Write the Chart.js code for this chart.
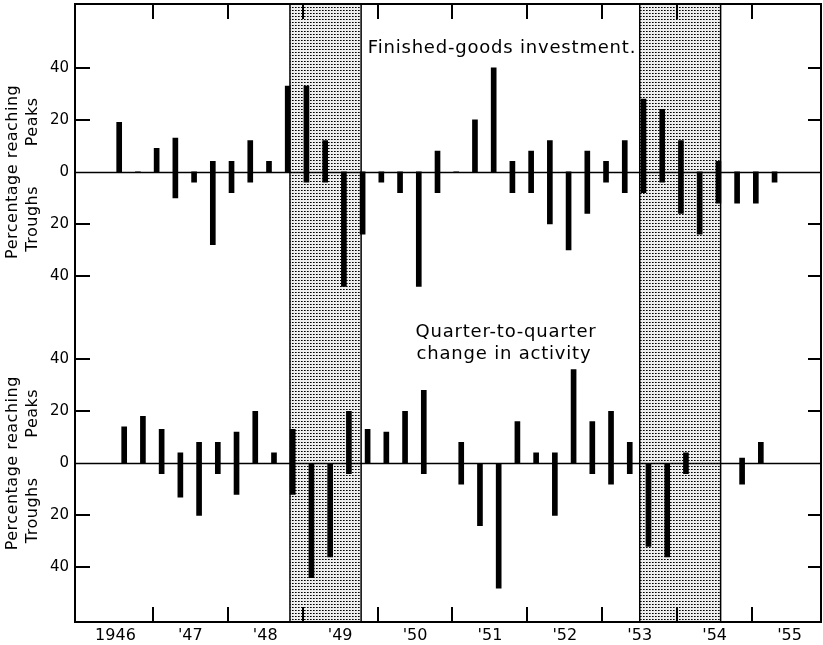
<!DOCTYPE html>
<html>
<head>
<meta charset="utf-8">
<script src="https://cdn.jsdelivr.net/npm/chart.js@4"></script>
<style>
  html, body { margin: 0; padding: 0; background: #fff; }
</style>
</head>
<body>
<canvas id="chart" width="823" height="645"></canvas>
<script>
// quarters (bars sit at the middle month of each quarter)
var quarters = [
  "1946 III", "1946 IV",
  "1947 I", "1947 II", "1947 III", "1947 IV",
  "1948 I", "1948 II", "1948 III", "1948 IV",
  "1949 I", "1949 II", "1949 III", "1949 IV",
  "1950 I", "1950 II", "1950 III", "1950 IV",
  "1951 I", "1951 II", "1951 III", "1951 IV",
  "1952 I", "1952 II", "1952 III", "1952 IV",
  "1953 I", "1953 II", "1953 III", "1953 IV",
  "1954 I", "1954 II", "1954 III", "1954 IV",
  "1955 I", "1955 II"
];

// Finished-goods investment: percentage reaching peaks / troughs
var goodsPeaks   = [19, 0, 9, 13, 0, 4, 4, 12, 4, 33, 33, 12, 0, 0, 0, 0, 0, 8, 0, 20, 40, 4, 8, 12, 0, 8, 4, 12, 28, 24, 12, 0, 4, 0, 0, 0];
var goodsTroughs = [0, 0, 0, 10, 4, 28, 8, 4, 0, 0, 4, 4, 44, 24, 4, 8, 44, 8, 0, 0, 0, 8, 8, 20, 30, 16, 4, 8, 8, 4, 16, 24, 12, 12, 12, 4];

// Quarter-to-quarter change in activity
var activityPeaks   = [14, 18, 13, 4, 8, 8, 12, 20, 4, 13, 0, 0, 20, 13, 12, 20, 28, 0, 8, 0, 0, 16, 4, 4, 36, 16, 20, 8, 0, 0, 4, 0, 0, 2, 8, 0];
var activityTroughs = [0, 0, 4, 13, 20, 4, 12, 0, 0, 12, 44, 36, 4, 0, 0, 0, 4, 0, 8, 24, 48, 0, 0, 20, 0, 4, 8, 4, 32, 36, 4, 0, 0, 8, 0, 0];

var yearLabels = ["1946", "'47", "'48", "'49", "'50", "'51", "'52", "'53", "'54", "'55"];
var yTicks = [-40, -20, 0, 20, 40];
// shaded business-cycle contractions (decimal years)
var recessions = [[1948.83, 1949.78], [1953.50, 1954.58]];

var quarterMid = { "I": 1 / 12, "II": 4 / 12, "III": 7 / 12, "IV": 10 / 12 };
function qx(q) {
  var p = q.split(" ");
  return Number(p[0]) + quarterMid[p[1]];
}
function spans(peaks, troughs) {
  return quarters.map(function (q, i) {
    return { x: qx(q), y: [-troughs[i], peaks[i]] };
  });
}

var FONT = "'DejaVu Sans', sans-serif";

function stipple(ctx) {
  var c = document.createElement('canvas');
  c.width = 3; c.height = 3;
  var g = c.getContext('2d');
  g.fillStyle = '#eeeeee';
  g.fillRect(0, 0, 3, 3);
  g.fillStyle = '#000';
  g.fillRect(1, 1, 1, 1);
  g.fillStyle = '#555';
  g.fillRect(2, 1, 1, 1);
  return ctx.createPattern(c, 'repeat');
}

function yAxis(min, max, weight) {
  return {
    type: 'linear',
    position: 'left',
    stack: 'panels',
    stackWeight: weight,
    min: min,
    max: max,
    grid: { display: false, drawTicks: false },
    border: { display: false },
    afterBuildTicks: function (s) {
      s.ticks = yTicks.map(function (v) { return { value: v }; });
    },
    afterFit: function (s) {
      s.width = 75;
      s.paddingTop = 0;
      s.paddingBottom = 0;
    },
    ticks: {
      padding: 6,
      color: '#000',
      font: { family: FONT, size: 15 },
      callback: function (v) { return String(Math.abs(v)); }
    }
  };
}

function line(ctx, x0, y0, x1, y1) {
  ctx.beginPath();
  ctx.moveTo(x0, y0);
  ctx.lineTo(x1, y1);
  ctx.stroke();
}

var framePlugin = {
  id: 'frame',
  beforeDatasetsDraw: function (chart) {
    var ctx = chart.ctx, a = chart.chartArea, xs = chart.scales.x;
    ctx.save();
    ctx.fillStyle = stipple(ctx);
    ctx.strokeStyle = '#000';
    ctx.lineWidth = 1.5;
    recessions.forEach(function (r) {
      var x0 = xs.getPixelForValue(r[0]), x1 = xs.getPixelForValue(r[1]);
      ctx.fillRect(x0, a.top, x1 - x0, a.bottom - a.top);
      line(ctx, x0, a.top, x0, a.bottom);
      line(ctx, x1, a.top, x1, a.bottom);
    });
    // zero lines
    ['yTop', 'yBot'].forEach(function (id) {
      var y0 = Math.round(chart.scales[id].getPixelForValue(0)) + 0.5;
      line(ctx, a.left, y0, a.right, y0);
    });
    ctx.restore();
  },
  afterDatasetsDraw: function (chart) {
    var ctx = chart.ctx, a = chart.chartArea, xs = chart.scales.x;
    var L = Math.round(a.left), R = Math.round(a.right);
    var T = Math.round(a.top), B = Math.round(a.bottom);
    ctx.save();
    ctx.fillStyle = '#000';
    // frame
    ctx.fillRect(L - 1, T - 1, R - L + 2, 2);
    ctx.fillRect(L - 1, B - 1, R - L + 2, 2);
    ctx.fillRect(L - 1, T - 1, 2, B - T + 2);
    ctx.fillRect(R - 1, T - 1, 2, B - T + 2);

    // inward tick marks on all four sides
    ['yTop', 'yBot'].forEach(function (id) {
      var s = chart.scales[id];
      yTicks.forEach(function (v) {
        if (v === 0) return;
        var y = Math.round(s.getPixelForValue(v)) - 1;
        ctx.fillRect(L, y, 15, 2);
        ctx.fillRect(R - 13, y, 13, 2);
      });
    });
    for (var i = 1; i < yearLabels.length; i++) {
      var x = Math.round(xs.getPixelForValue(1946 + i)) - 1;
      ctx.fillRect(x, T, 2, 15);
      ctx.fillRect(x, B - 15, 2, 15);
    }

    // axis titles
    ctx.textAlign = 'center';
    ctx.textBaseline = 'middle';
    ctx.letterSpacing = '0.5px';
    ['yTop', 'yBot'].forEach(function (id) {
      var y0 = chart.scales[id].getPixelForValue(0);
      [['Percentage reaching', 13, 0], ['Peaks', 33, -50], ['Troughs', 33, 47]].forEach(function (t) {
        ctx.save();
        ctx.translate(t[1], y0 + t[2]);
        ctx.rotate(-Math.PI / 2);
        ctx.font = '16px ' + FONT;
        ctx.fillText(t[0], 0, 0);
        ctx.restore();
      });
    });

    // panel titles
    ctx.font = '18px ' + FONT;
    ctx.letterSpacing = '0.8px';
    ctx.fillText('Finished-goods investment.', a.left + 427, 48);
    ctx.fillText('Quarter-to-quarter', a.left + 431, 332);
    ctx.fillText('change in activity', a.left + 429, 354);
    ctx.restore();
  }
};

var ctx = document.getElementById('chart').getContext('2d');
var chart = new Chart(ctx, {
  type: 'bar',
  data: {
    datasets: [{
      label: 'Finished-goods investment',
      data: spans(goodsPeaks, goodsTroughs),
      yAxisID: 'yTop',
      backgroundColor: '#000',
      barThickness: 5
    }, {
      label: 'Quarter-to-quarter change in activity',
      data: spans(activityPeaks, activityTroughs),
      yAxisID: 'yBot',
      backgroundColor: '#000',
      barThickness: 5
    }]
  },
  options: {
    responsive: false,
    animation: false,
    layout: { padding: { top: 4, right: 2, left: 0, bottom: 0 } },
    plugins: { legend: { display: false }, tooltip: { enabled: false } },
    scales: {
      x: {
        type: 'linear',
        offset: false,
        min: 1945.96,
        max: 1955.92,
        grid: { display: false, drawTicks: false, offset: false },
        border: { display: false },
        afterBuildTicks: function (s) {
          s.ticks = yearLabels.map(function (t, i) { return { value: 1946.5 + i }; });
        },
        afterFit: function (s) { s.height = 23; },
        ticks: {
          autoSkip: false,
          maxRotation: 0,
          padding: 4,
          color: '#000',
          font: { family: FONT, size: 16 },
          callback: function (v, i) { return yearLabels[i]; }
        }
      },
      yBot: yAxis(-61, 56, 117),
      yTop: yAxis(-56, 64.5, 120.5)
    }
  },
  plugins: [framePlugin]
});
</script>
</body>
</html>
